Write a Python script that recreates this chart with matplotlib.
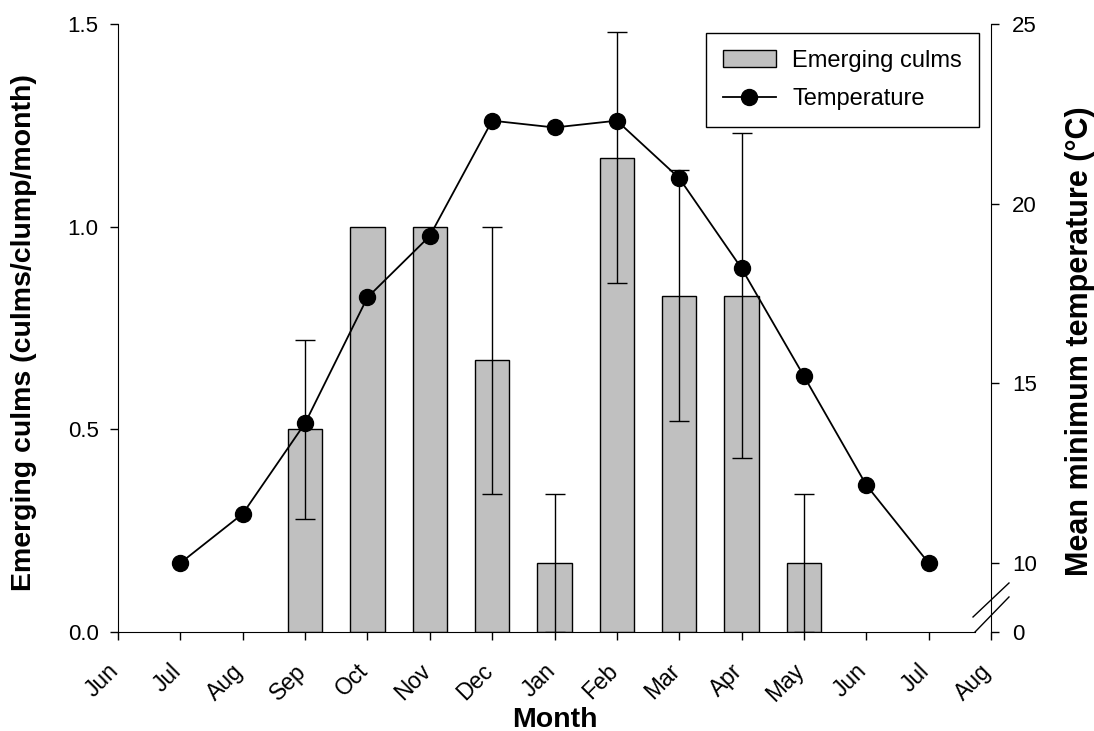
import matplotlib
matplotlib.use("Agg")
import matplotlib.pyplot as plt
import matplotlib.transforms as mtransforms
import numpy as np

plt.rcParams['font.family'] = ['Liberation Sans', 'DejaVu Sans']

months = ["Jun", "Jul", "Aug", "Sep", "Oct", "Nov", "Dec", "Jan",
          "Feb", "Mar", "Apr", "May", "Jun", "Jul", "Aug"]
# Emerging culms (bars) at positions Sep..May
bar_months = ["Sep", "Oct", "Nov", "Dec", "Jan", "Feb", "Mar", "Apr", "May"]
bar_pos = [3, 4, 5, 6, 7, 8, 9, 10, 11]
culms = [0.50, 1.00, 1.00, 0.67, 0.17, 1.17, 0.83, 0.83, 0.17]
culms_err = [0.22, 0.0, 0.0, 0.33, 0.17, 0.31, 0.31, 0.40, 0.17]
# Temperature (line) at positions Jul..Jul
temp_pos = [1, 2, 3, 4, 5, 6, 7, 8, 9, 10, 11, 12, 13]
temperature = [10.0, 11.37, 13.89, 17.39, 19.10, 22.31, 22.12, 22.31,
               20.71, 18.20, 15.20, 12.17, 10.0]

right_ticks = [10, 15, 20, 25]
right_bottom = 8.08

fig = plt.figure(figsize=(10.94, 7.31), dpi=100)
ax = fig.add_axes([118/1094, 1-632/731, (991-118)/1094, (632-24)/731])

ax.bar(bar_pos, culms, width=0.55, color="#c0c0c0", edgecolor="black",
       linewidth=1.0, zorder=2, label="Emerging culms")
err_idx = [i for i, e in enumerate(culms_err) if e > 0]
ax.errorbar([bar_pos[i] for i in err_idx], [culms[i] for i in err_idx],
            yerr=[culms_err[i] for i in err_idx], fmt="none", ecolor="black",
            elinewidth=1.0, capsize=7, capthick=1.0, zorder=3)

ax.set_xlim(0, 14)
ax.set_ylim(0, 1.5)
ax.set_yticks([0, 0.5, 1.0, 1.5])
ax.set_yticklabels(["0.0", "0.5", "1.0", "1.5"])
ax.set_xticks(range(len(months)))
ax.set_xticklabels(months, rotation=45, ha="right", rotation_mode="anchor")
ax.tick_params(axis="both", direction="out", length=6, width=1.0,
               color="black")
ax.tick_params(axis="y", labelsize=16, pad=8)
ax.tick_params(axis="x", labelsize=16.5, pad=8)
offset = mtransforms.ScaledTranslation(-0.11, -0.08, fig.dpi_scale_trans)
for lbl in ax.get_xticklabels():
    lbl.set_transform(lbl.get_transform() + offset)
ax.spines["top"].set_visible(False)
ax.spines["right"].set_visible(False)
ax.spines["bottom"].set_bounds(0, 14 - 16/62.3)
ax.set_xlabel("Month", fontsize=20.5, fontweight="bold")
ax.xaxis.set_label_coords(0.5, -0.1235)
ax.set_ylabel("Emerging culms (culms/clump/month)", fontsize=20.5,
              fontweight="bold")
ax.yaxis.set_label_coords(-0.0928, 0.493)

ax2 = ax.twinx()
ax2.plot(temp_pos, temperature, color="black", linewidth=1.3, marker="o",
         markersize=11.5, zorder=4, label="Temperature")
ax2.set_ylim(right_bottom, 25)
ax2.set_yticks([right_bottom] + right_ticks)
ax2.set_yticklabels(["0"] + [str(t) for t in right_ticks])
ax2.tick_params(axis="y", direction="out", length=6, width=1.0, labelsize=16,
                pad=9)
ax2.spines["top"].set_visible(False)
ax2.spines["left"].set_visible(False)
ax2.spines["bottom"].set_visible(False)
ax2.set_ylabel("Mean minimum temperature (°C)", fontsize=22,
               fontweight="bold")
ax2.yaxis.set_label_coords(1.0848, 0.478)

# axis break marks
for (x0, y0, x1, y1) in [(0.9817, 0.0, 1.0206, 0.0576),
                         (0.9794, 0.0247, 1.0206, 0.0806)]:
    ax2.plot([x0, x1], [y0, y1], transform=ax2.transAxes, color="black",
             linewidth=1.0, clip_on=False, zorder=5)

h1, l1 = ax.get_legend_handles_labels()
h2, l2 = ax2.get_legend_handles_labels()
leg = ax2.legend(h1 + h2, l1 + l2, loc="upper right", fontsize=17,
                 frameon=True, fancybox=False, edgecolor="black",
                 framealpha=1, handlelength=2.25, handletextpad=0.7,
                 borderpad=0.72, labelspacing=0.67, borderaxespad=0,
                 bbox_to_anchor=(0.9863, 0.9852))
leg.get_frame().set_linewidth(1.0)

fig.savefig("out.png", dpi=100)
